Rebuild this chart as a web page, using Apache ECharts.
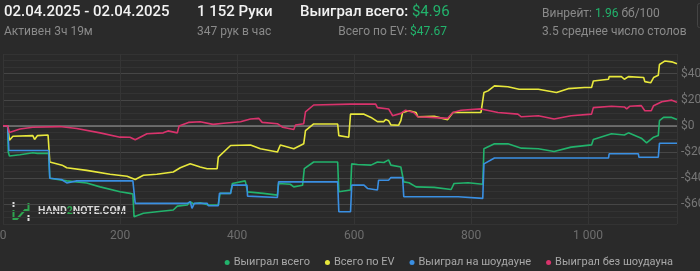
<!DOCTYPE html>
<html>
<head>
<meta charset="utf-8">
<script src="https://cdn.jsdelivr.net/npm/echarts@6/dist/echarts.min.js"></script>
<style>
html,body{margin:0;padding:0;background:#2a2a2a;}
#c{width:700px;height:271px;}
</style>
</head>
<body>
<div id="c"></div>
<script>
// ---- data ----
const seriesNames = ['Выиграл всего', 'Всего по EV', 'Выиграл на шоудауне', 'Выиграл без шоудауна'];
const xTicks = [0, 200, 400, 600, 800, 1000];
const yTickLabels = [-60, -40, -20, 0, 20, 40];

const wonTotal = [[0,0],[8,0],[9,-20],[11,-23],[29,-22],[51,-20.5],[54,-22],[59,-21],[68,-21],[78,-21],[80,-40],[109,-42],[143,-43.6],[166,-46.6],[200,-50.4],[217,-51.6],[222,-52],[224,-69.4],[240,-66.8],[263,-65.6],[291,-64.3],[298,-61.3],[315,-60.5],[320,-58],[325,-59.5],[337,-58.8],[351,-60.5],[368,-60.5],[371,-51.6],[389,-51.6],[392,-44],[414,-42],[418,-50.4],[445,-51.6],[469,-52.9],[471,-44],[491,-44.6],[497,-46.6],[512,-45.4],[515,-32.7],[531,-27.6],[572,-27.6],[574,-50.4],[594,-49],[596,-29],[606,-29.5],[629,-30],[640,-27.6],[651,-28],[659,-26],[663,-30],[680,-31.4],[685,-42.8],[694,-43.5],[706,-46.6],[737,-47],[766,-48.6],[771,-44],[795,-43.5],[820,-44.6],[822,-17.5],[840,-13.7],[863,-13.7],[886,-17],[915,-17.5],[942,-19.5],[971,-16.2],[1006,-14.5],[1009,-10.4],[1040,-6],[1062,-7],[1069,-5.3],[1091,-9.4],[1100,-13],[1112,-8.6],[1120,-7.4],[1122,4],[1129,6.5],[1143,6.5],[1152,5]];

const evTotal = [[0,0],[8,0],[11,-11],[17,-7.9],[51,-7.4],[54,-10.4],[59,-7.4],[77,-6.9],[78,-7],[80,-27.6],[101,-30],[109,-32],[143,-34],[183,-37],[212,-38.5],[226,-41],[240,-37.7],[263,-37],[291,-35.2],[303,-32],[320,-29],[337,-31.4],[349,-32.7],[366,-32.7],[368,-23.8],[389,-15],[423,-14.6],[440,-17.5],[469,-20],[474,-14.6],[497,-17.5],[514,-13.7],[517,-3.6],[531,1.5],[572,1.5],[574,-7.4],[591,-8.6],[594,9.1],[617,9],[629,6.5],[640,3.3],[651,3.3],[654,5],[659,4],[663,0.8],[676,0.5],[680,4],[683,10.3],[694,11.6],[706,10.3],[709,7],[737,7.3],[760,4.8],[769,10.3],[817,10.3],[822,25.5],[829,26.8],[840,30.6],[863,30],[882,28.1],[915,28],[946,25.5],[966,28.5],[994,29.4],[1006,29.4],[1009,34.4],[1035,35.7],[1036,37.7],[1057,37.7],[1062,35.7],[1069,37.7],[1095,37],[1097,33.9],[1107,33],[1112,37],[1120,38.7],[1122,47],[1131,49.6],[1143,49],[1152,47.5]];

const wonShowdown = [[0,0],[8,0],[10,-18.8],[78,-18.8],[80,-40],[100,-41],[109,-43.6],[126,-42],[222,-42],[226,-59.2],[315,-59.2],[320,-58],[323,-63],[327,-59.2],[349,-59.2],[351,-61],[368,-61],[370,-51.6],[389,-51.6],[392,-45.3],[417,-45.3],[418,-53.7],[469,-54.7],[471,-42.8],[572,-42.8],[574,-65.6],[594,-65.6],[596,-45.3],[617,-45.3],[623,-47.8],[640,-49],[642,-41.5],[659,-41.5],[663,-39.5],[683,-39.5],[685,-54.2],[778,-54.2],[779,-55.4],[820,-55.4],[822,-29],[840,-24.5],[1035,-24.5],[1036,-21.3],[1086,-21.3],[1087,-24],[1120,-24],[1122,-13.3],[1152,-13.3]];

const wonNonShowdown = [[0,0],[8,0],[11,-5],[29,-2.3],[51,-1],[97,-0.5],[126,-2],[166,-5.3],[200,-8.6],[217,-8.7],[226,-10.6],[246,-6],[274,-5.3],[282,-3.8],[298,-5.3],[301,0],[317,2.7],[337,3.2],[359,1.2],[377,2],[406,3.2],[423,5.3],[437,5.8],[443,2.7],[469,1.7],[478,-1],[497,-2.8],[500,0.7],[514,1.7],[517,10.8],[531,16],[594,16.7],[637,16.7],[640,14],[659,13],[666,7.8],[680,9.6],[688,12],[702,10.3],[709,7],[731,6.5],[760,5.8],[769,10.3],[783,12],[817,13],[846,10.3],[880,9],[886,7],[915,7.8],[942,5.3],[971,7.8],[1006,9],[1009,14],[1040,15],[1062,14.5],[1066,13],[1071,15],[1091,15.5],[1097,11.6],[1108,11.6],[1112,15.5],[1126,18.5],[1143,19.7],[1152,18]];

const seriesData = [wonTotal, evTotal, wonShowdown, wonNonShowdown];
const colors = ['#22b36c', '#e8e83c', '#3a8fe2', '#d9336c'];

// ---- chart ----
const chart = echarts.init(document.getElementById('c'), null, {renderer: 'canvas'});
const F = 'Roboto, "Noto Sans", sans-serif';
const minor = '#333333', major = '#464646';

const series = seriesNames.map((n, i) => ({
  name: n, type: 'line', data: seriesData[i], showSymbol: false, symbol: 'circle',
  lineStyle: {width: 1.6, color: colors[i]}, itemStyle: {color: colors[i]},
  z: 3 + i, silent: true
}));
series[0].markLine = {
  silent: true, symbol: 'none', label: {show: false},
  lineStyle: {color: '#7a7a7a', width: 1.5, type: 'solid'},
  data: [{yAxis: 0}], z: 2
};

chart.setOption({
  backgroundColor: '#2a2a2a',
  animation: false,
  grid: {left: 3, right: 23, top: 54, bottom: 47, containLabel: false, outerBoundsMode: 'none'},
  xAxis: {
    type: 'value', min: 0, max: 1152, interval: 200,
    axisLine: {show: false}, axisTick: {show: false},
    splitLine: {show: true, lineStyle: {color: '#353535', width: 1}},
    axisLabel: {
      color: '#6e6e6e', fontFamily: F, fontSize: 12, margin: 6, showMaxLabel: false, hideOverlap: false,
      formatter: v => xTicks.includes(v) ? String(v).replace(/\B(?=(\d{3})+(?!\d))/g, ' ') : ''
    }
  },
  yAxis: {
    type: 'value', position: 'right', min: -75, max: 55, interval: 5,
    axisLine: {show: false}, axisTick: {show: false},
    splitLine: {show: true, lineStyle: {color: [minor, minor, minor, major], width: 1}},
    axisLabel: {
      color: '#777', fontFamily: F, fontSize: 12, margin: 4, align: 'left', hideOverlap: false,
      formatter: v => yTickLabels.includes(v) ? (v < 0 ? '-$' + Math.abs(v) : '$' + v) : ''
    }
  },
  legend: {
    data: seriesNames, right: 22, top: 252, icon: 'circle', itemWidth: 5, itemHeight: 5,
    itemGap: 15, textStyle: {color: '#a8a8a8', fontFamily: F, fontSize: 11, padding: [0,0,0,-1]}
  },
  graphic: [
    {type: 'text', left: 4, top: 5, style: {text: '02.04.2025 - 02.04.2025', fill: '#f2f2f2', font: '500 15px ' + F}},
    {type: 'text', left: 4, top: 26, style: {text: 'Активен 3ч 19м', fill: '#8a8a8a', font: '12px ' + F}},
    {type: 'text', left: 197, top: 5, style: {text: '1 152 Руки', fill: '#f2f2f2', font: '500 15px ' + F}},
    {type: 'text', left: 197, top: 26, style: {text: '347 рук в час', fill: '#8a8a8a', font: '12px ' + F}},
    {type: 'text', left: 300, top: 5, style: {
      text: '{w|Выиграл всего: }{g|$4.96}',
      rich: {w: {fill: '#f2f2f2', font: '500 15px ' + F}, g: {fill: '#22b36c', font: '15px ' + F}}
    }},
    {type: 'text', right: 253, top: 26, style: {
      text: '{w|Всего по EV: }{g|$47.67}',
      rich: {w: {fill: '#8a8a8a', font: '12px ' + F}, g: {fill: '#22b36c', font: '12px ' + F}}
    }},
    {type: 'text', left: 542, top: 8, style: {
      text: '{w|Винрейт: }{g|1.96}{w| бб/100}',
      rich: {w: {fill: '#8a8a8a', font: '12px ' + F}, g: {fill: '#22b36c', font: '12px ' + F}}
    }},
    {type: 'text', left: 542, top: 26, style: {text: '3.5 среднее число столов', fill: '#8a8a8a', font: '12px ' + F}},
    {type: 'rect', shape: {x: 697.5, y: 3.5, width: 10, height: 24, r: 2}, style: {fill: 'none', stroke: '#444'}},
    // watermark logo
    {type: 'line', shape: {x1: 13.5, y1: 202, x2: 13.5, y2: 207}, style: {stroke: '#ddd', lineWidth: 2}},
    {type: 'polyline', shape: {points: [[13.5, 210], [13.5, 219], [17, 219], [25, 210], [28.5, 210], [28.5, 203]]}, style: {stroke: '#2ea44f', lineWidth: 2, fill: 'none'}},
    {type: 'line', shape: {x1: 28.5, y1: 215, x2: 28.5, y2: 221}, style: {stroke: '#ddd', lineWidth: 2}},
    {type: 'text', left: 38, top: 206, style: {
      text: '{w|HAND}{g|2}{w|NOTE.COM}',
      rich: {w: {fill: '#d8d8d8', font: 'bold 10.5px ' + F}, g: {fill: '#2ea44f', font: 'bold 10.5px ' + F}}
    }}
  ],
  series: series
});
</script>
</body>
</html>
